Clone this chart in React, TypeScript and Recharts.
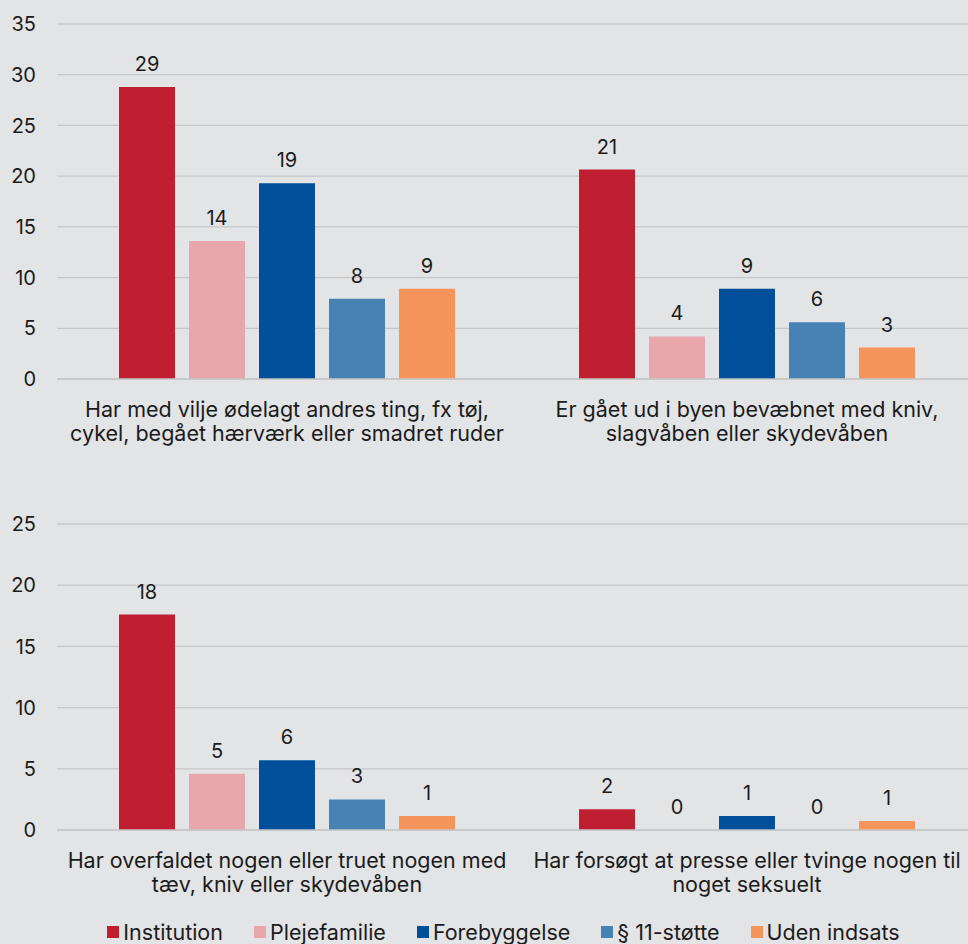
import React from "react";
import { BarChart, Bar, XAxis, YAxis, CartesianGrid, LabelList, Legend } from "recharts";

const seriesNames = ["Institution", "Plejefamilie", "Forebyggelse", "§ 11-støtte", "Uden indsats"];
const seriesKeys = ["inst", "pleje", "fore", "s11", "uden"];
const seriesColors = ["#c01f31", "#e8a7ad", "#004f9b", "#4682b4", "#f5955b"];

const topCategories = [
  "Har med vilje ødelagt andres ting, fx tøj,\ncykel, begået hærværk eller smadret ruder",
  "Er gået ud i byen bevæbnet med kniv,\nslagvåben eller skydevåben",
];
const topInst = [28.8, 20.65];
const topPleje = [13.6, 4.2];
const topFore = [19.3, 8.9];
const topS11 = [7.9, 5.6];
const topUden = [8.9, 3.1];
const topTicks = [0, 5, 10, 15, 20, 25, 30, 35];

const bottomCategories = [
  "Har overfaldet nogen eller truet nogen med\ntæv, kniv eller skydevåben",
  "Har forsøgt at presse eller tvinge nogen til\nnoget seksuelt",
];
const bottomInst = [17.6, 1.7];
const bottomPleje = [4.6, 0];
const bottomFore = [5.7, 1.15];
const bottomS11 = [2.5, 0];
const bottomUden = [1.15, 0.74];
const bottomTicks = [0, 5, 10, 15, 20, 25];

const buildRows = (cats: string[], cols: number[][]) =>
  cats.map((name, i) => {
    const row: Record<string, any> = { name };
    seriesKeys.forEach((k, j) => (row[k] = cols[j][i]));
    return row;
  });

const topData = buildRows(topCategories, [topInst, topPleje, topFore, topS11, topUden]);
const bottomData = buildRows(bottomCategories, [bottomInst, bottomPleje, bottomFore, bottomS11, bottomUden]);

const FONT = "Inter, 'Noto Sans', sans-serif";
const TEXT = "#1b1b1b";

const CategoryTick = (props: any) => {
  const { x, y, payload } = props;
  const lines = String(payload.value).split("\n");
  return (
    <text x={x} y={y} textAnchor="middle" fill={TEXT} fontSize={21.5} fontFamily={FONT}>
      {lines.map((l, i) => (
        <tspan key={i} x={x} y={y + 30 + i * 24}>
          {l}
        </tspan>
      ))}
    </text>
  );
};

const LegendBox = () => (
  <div
    style={{
      display: "flex",
      justifyContent: "center",
      gap: 31,
      fontFamily: FONT,
      fontSize: 21.5,
      color: TEXT,
      height: 24,
      lineHeight: "24px",
      paddingLeft: 30,
    }}
  >
    {seriesNames.map((n, i) => (
      <div key={n} style={{ display: "flex", alignItems: "center" }}>
        <span style={{ width: 12, height: 12, background: seriesColors[i], marginRight: 4, display: "inline-block" }} />
        <span>{n}</span>
      </div>
    ))}
  </div>
);

function Panel({ data, ticks, max, height, top, withLegend }: any) {
  return (
    <BarChart
      width={977}
      height={height}
      data={data}
      margin={{ top, right: 0, left: 0, bottom: 0 }}
      barSize={56}
      barGap={14}
    >
      <CartesianGrid vertical={false} stroke="#c6c7c9" strokeWidth={1.3} />
      <XAxis
        dataKey="name"
        tick={<CategoryTick />}
        tickLine={false}
        axisLine={{ stroke: "#c6c7c9", strokeWidth: 1.3 }}
        interval={0}
        height={withLegend ? 90 : 81}
      />
      <YAxis
        domain={[0, max]}
        ticks={ticks}
        width={57}
        tickLine={false}
        axisLine={false}
        tickMargin={15}
        tick={{ fontSize: 20, fill: TEXT, fontFamily: FONT }}
      />
      {withLegend && <Legend verticalAlign="bottom" height={24} content={<LegendBox />} />}
      {seriesKeys.map((k, i) => (
        <Bar key={k} dataKey={k} name={seriesNames[i]} fill={seriesColors[i]} minPointSize={0.01} isAnimationActive={false}>
          <LabelList
            dataKey={k}
            position="top"
            offset={16}
            formatter={(v: any) => Math.round(Number(v))}
            style={{ fontSize: 20, fill: TEXT, fontFamily: FONT }}
          />
        </Bar>
      ))}
    </BarChart>
  );
}

export default function App() {
  return (
    <div
      style={{
        position: "absolute",
        left: 0,
        top: 0,
        width: 968,
        height: 944,
        overflow: "hidden",
        background: "#e3e4e6",
      }}
    >
      <Panel data={topData} ticks={topTicks} max={35} height={460} top={24} />
      <Panel data={bottomData} ticks={bottomTicks} max={25} height={484} top={64} withLegend />
    </div>
  );
}
